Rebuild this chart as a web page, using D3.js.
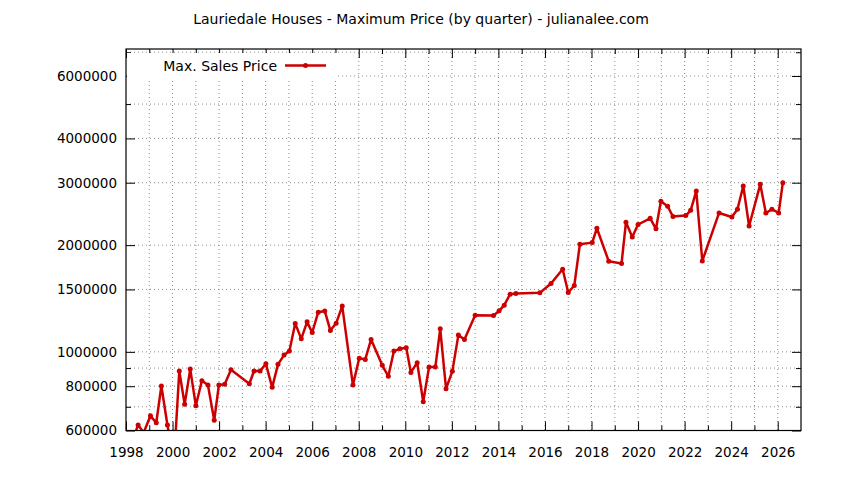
<!DOCTYPE html>
<html>
<head>
<meta charset="utf-8">
<script src="https://cdn.jsdelivr.net/npm/d3@7"></script>
<style>
body { margin:0; background:#fff; }
svg text { font-family:"DejaVu Sans", sans-serif; fill:#000; }
.grid line { stroke:#8c8c8c; stroke-width:1; stroke-dasharray:1,3; }
.axis path { display:none; }
.axis line { stroke:#000; stroke-width:1; }
</style>
</head>
<body>
<svg id="chart" width="844" height="480"></svg>
<script>
// quarter position (decimal year) and max sale price for the quarter
var quarterYear = [1998.27, 1998.52, 1998.76, 1999.05, 1999.30, 1999.52, 1999.78, 2000.06, 2000.29, 2000.52,
  2000.76, 2001.00, 2001.26, 2001.52, 2001.79, 2001.99, 2002.24, 2002.51, 2003.30, 2003.50,
  2003.76, 2004.01, 2004.28, 2004.53, 2004.79, 2005.02, 2005.27, 2005.53, 2005.78, 2006.00,
  2006.26, 2006.54, 2006.78, 2007.03, 2007.29, 2007.75, 2008.02, 2008.28, 2008.53, 2009.01,
  2009.27, 2009.51, 2009.77, 2010.04, 2010.24, 2010.51, 2010.77, 2011.02, 2011.29, 2011.50,
  2011.75, 2012.02, 2012.28, 2012.54, 2013.00, 2013.79, 2014.03, 2014.25, 2014.50, 2014.75,
  2015.78, 2016.26, 2016.76, 2017.00, 2017.26, 2017.50, 2018.03, 2018.23, 2018.74, 2019.29,
  2019.48, 2019.75, 2020.00, 2020.52, 2020.77, 2020.98, 2021.27, 2021.50, 2022.05, 2022.26,
  2022.50, 2022.76, 2023.48, 2024.03, 2024.27, 2024.52, 2024.77, 2025.25, 2025.49, 2025.75,
  2026.04, 2026.22]

var maxPrice = [560000, 622000, 592000, 660000, 631000, 801000, 622000, 490000, 883000, 711000,
  894000, 705000, 829000, 806000, 641000, 806000, 810000, 890000, 813000, 883000,
  883000, 925000, 794000, 922000, 979000, 1005000, 1203000, 1088000, 1215000, 1134000,
  1294000, 1303000, 1149000, 1205000, 1346000, 806000, 960000, 952000, 1084000, 916000,
  853000, 1005000, 1020000, 1027000, 875000, 932000, 723000, 906000, 906000, 1161000,
  787000, 881000, 1115000, 1084000, 1269000, 1267000, 1305000, 1354000, 1454000, 1461000,
  1467000, 1559000, 1710000, 1470000, 1539000, 2011000, 2033000, 2232000, 1801000, 1775000,
  2320000, 2109000, 2287000, 2381000, 2224000, 2659000, 2574000, 2408000, 2423000, 2508000,
  2842000, 1805000, 2465000, 2401000, 2525000, 2936000, 2265000, 2968000, 2465000, 2525000,
  2465000, 3001000]

var xMajorTicks = [1998, 2000, 2002, 2004, 2006, 2008, 2010, 2012, 2014, 2016, 2018, 2020, 2022, 2024, 2026]
var xMinorTicks = [1999, 2001, 2003, 2005, 2007, 2009, 2011, 2013, 2015, 2017, 2019, 2021, 2023, 2025]
var yMajorTicks = [600000, 800000, 1000000, 1500000, 2000000, 3000000, 4000000, 6000000]
var yMinorTicks = [700000, 900000, 5000000, 7000000]

var titleText = "Lauriedale Houses - Maximum Price (by quarter) - julianalee.com"
var seriesName = "Max. Sales Price"

// plot box (window.top is read-only, so no "top" here)
var plotL = 126, plotR = 801, plotT = 49, plotB = 430.5
var yMax = 7150000

var data = quarterYear.map(function(d, i) { return [d, maxPrice[i]]; })

var xScale = d3.scaleLinear()
    .domain([1998, 2027])
    .range([plotL, plotR]);

var yScale = d3.scaleLog()
    .domain([600000, yMax])
    .range([plotB, plotT]);

var svg = d3.select("#chart")

svg.append("rect").attr("width", 844).attr("height", 480).attr("fill", "#fff")

svg.append("defs").append("clipPath").attr("id", "plotClip")
  .append("rect")
    .attr("x", plotL).attr("y", plotT)
    .attr("width", plotR - plotL).attr("height", plotB - plotT)

// grid lines (every year, every y tick)
var gridG = svg.append("g").attr("class", "grid")
gridG.selectAll(".gx")
    .data(xMajorTicks.concat(xMinorTicks).filter(function(d) { return d > 1998; }))
  .enter().append("line")
    .attr("x1", function(d) { return xScale(d); })
    .attr("x2", function(d) { return xScale(d); })
    .attr("y1", plotT).attr("y2", plotB)
gridG.selectAll(".gy")
    .data(yMajorTicks.concat(yMinorTicks).filter(function(d) { return d > 600000 && d < yMax; }))
  .enter().append("line")
    .attr("x1", plotL).attr("x2", plotR)
    .attr("y1", function(d) { return yScale(d); })
    .attr("y2", function(d) { return yScale(d); })

// ticks on all four sides, pointing inward
function tickAxis(axis, vals, size, tx, ty, labels, pad) {
  var a = axis.tickValues(vals).tickSizeInner(-size).tickSizeOuter(0)
  if (labels) a.tickPadding(pad).tickFormat(d3.format("d"))
  else a.tickFormat("")
  return svg.append("g").attr("class", "axis")
    .attr("transform", "translate(" + tx + "," + ty + ")")
    .call(a)
}

var yMinorIn = yMinorTicks.filter(function(d) { return d < yMax; })

tickAxis(d3.axisBottom(xScale), xMajorTicks, 9, 0, plotB, true, 17)
tickAxis(d3.axisBottom(xScale), xMinorTicks, 5, 0, plotB, false)
tickAxis(d3.axisTop(xScale), xMajorTicks, 9, 0, plotT, false)
tickAxis(d3.axisTop(xScale), xMinorTicks, 5, 0, plotT, false)

tickAxis(d3.axisLeft(yScale), yMajorTicks, 9, plotL, 0, true, 9)
tickAxis(d3.axisLeft(yScale), yMinorIn, 5, plotL, 0, false)
tickAxis(d3.axisRight(yScale), yMajorTicks, 9, plotR, 0, false)
tickAxis(d3.axisRight(yScale), yMinorIn, 5, plotR, 0, false)

svg.selectAll(".axis text").style("font-size", "13.5px").attr("fill", "#000")

// the series
var line = d3.line()
    .x(function(d) { return xScale(d[0]); })
    .y(function(d) { return yScale(d[1]); })

var plotG = svg.append("g").attr("clip-path", "url(#plotClip)")
plotG.append("path")
    .datum(data)
    .attr("fill", "none")
    .attr("stroke", "#cc0000")
    .attr("stroke-width", 2.5)
    .attr("stroke-linejoin", "round")
    .attr("d", line)
plotG.selectAll("circle")
    .data(data)
  .enter().append("circle")
    .attr("cx", function(d) { return xScale(d[0]); })
    .attr("cy", function(d) { return yScale(d[1]); })
    .attr("r", 2.5)
    .attr("fill", "#cc0000")

// key with opaque background
var keyG = svg.append("g")
keyG.append("rect")
    .attr("x", plotL + 1).attr("y", 53)
    .attr("width", 211).attr("height", 25)
    .attr("fill", "#fff")
keyG.append("text")
    .attr("x", 277).attr("y", 70.5)
    .attr("text-anchor", "end")
    .style("font-size", "14px")
    .text(seriesName)
keyG.append("line")
    .attr("x1", 285).attr("x2", 326)
    .attr("y1", 65.5).attr("y2", 65.5)
    .attr("stroke", "#cc0000").attr("stroke-width", 2.5)
keyG.append("circle")
    .attr("cx", 305.5).attr("cy", 65.5).attr("r", 2.5)
    .attr("fill", "#cc0000")

// border
svg.append("rect")
    .attr("x", plotL).attr("y", plotT)
    .attr("width", plotR - plotL).attr("height", plotB - plotT)
    .attr("fill", "none").attr("stroke", "#000").attr("stroke-width", 1.2)

svg.append("text")
    .attr("x", 421).attr("y", 24)
    .attr("text-anchor", "middle")
    .style("font-size", "14px")
    .text(titleText)
</script>
</body>
</html>
